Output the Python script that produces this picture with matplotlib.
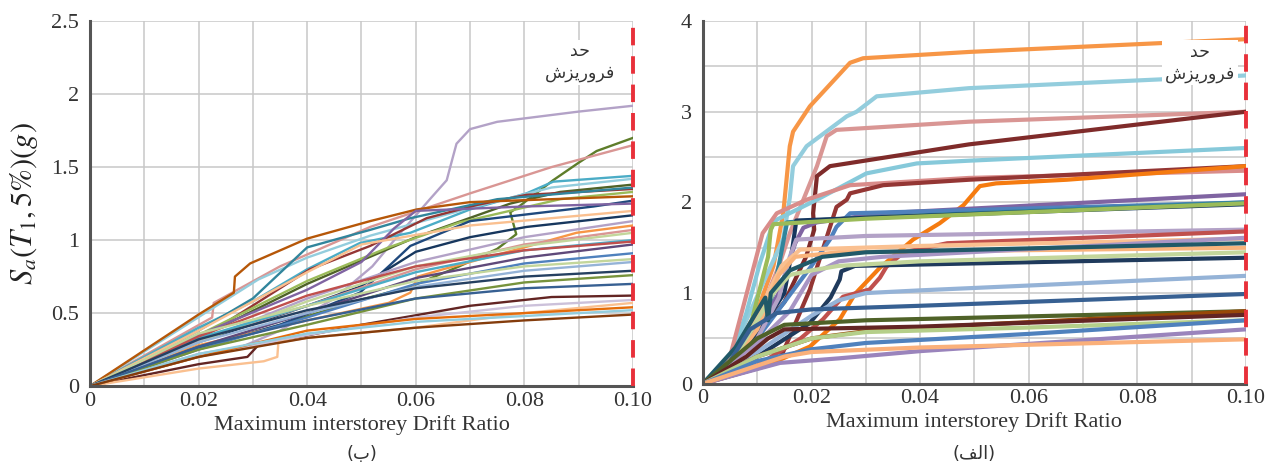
import matplotlib
matplotlib.use("Agg")
import matplotlib.pyplot as plt

plt.rcParams['font.family'] = ['Liberation Serif', 'DejaVu Sans']
plt.rcParams['mathtext.fontset'] = 'stix'

# ---------------- left panel (ب) : thin IDA curves ----------------
left_x = [
    [0, 0.02, 0.028, 0.035, 0.045, 0.052, 0.0565, 0.0626, 0.0657, 0.0667, 0.0675, 0.07, 0.075, 0.09, 0.10],
    [0, 0.02, 0.035, 0.0497, 0.059, 0.068, 0.075, 0.0785, 0.0774, 0.079, 0.0853, 0.09, 0.0933, 0.10],
    [0, 0.0225, 0.0228, 0.035, 0.0516, 0.07, 0.085, 0.10],
    [0, 0.02, 0.03, 0.04, 0.0497, 0.059, 0.07, 0.0804, 0.0853, 0.10],
    [0, 0.0233, 0.031, 0.04, 0.0516, 0.07, 0.085, 0.10],
    [0, 0.02, 0.04, 0.06, 0.0774, 0.0866, 0.10],
    [0, 0.02, 0.0295, 0.0405, 0.0516, 0.062, 0.0712, 0.0804, 0.10],
    [0, 0.02, 0.03, 0.04, 0.0516, 0.059, 0.075, 0.10],
    [0, 0.02, 0.04, 0.055, 0.068, 0.0866, 0.10],
    [0, 0.02, 0.0265, 0.0267, 0.0295, 0.04, 0.0516, 0.0602, 0.07, 0.10],
    [0, 0.02, 0.035, 0.0497, 0.055, 0.059, 0.07, 0.0927, 0.10],
    [0, 0.02, 0.04, 0.05, 0.056, 0.06, 0.08, 0.10],
    [0, 0.02, 0.04, 0.05, 0.07, 0.10],
    [0, 0.02, 0.04, 0.0497, 0.06, 0.07, 0.0804, 0.10],
    [0, 0.02, 0.04, 0.06, 0.08, 0.10],
    [0, 0.02, 0.04, 0.055, 0.059, 0.0604, 0.065, 0.08, 0.0896, 0.10],
    [0, 0.02, 0.04, 0.06, 0.08, 0.10],
    [0, 0.02, 0.04, 0.06, 0.08, 0.10],
    [0, 0.02, 0.04, 0.06, 0.08, 0.10],
    [0, 0.02, 0.04, 0.06, 0.08, 0.10],
    [0, 0.02, 0.04, 0.06, 0.08, 0.10],
    [0, 0.02, 0.04, 0.06, 0.08, 0.10],
    [0, 0.02, 0.04, 0.06, 0.08, 0.10],
    [0, 0.02, 0.04, 0.06, 0.08, 0.10],
    [0, 0.02, 0.04, 0.06, 0.08, 0.10],
    [0, 0.02, 0.04, 0.06, 0.08, 0.10],
    [0, 0.02, 0.04, 0.06, 0.08, 0.10],
    [0, 0.02, 0.029, 0.031, 0.035, 0.05, 0.07, 0.085, 0.10],
    [0, 0.02, 0.04, 0.06, 0.08, 0.10],
    [0, 0.02, 0.032, 0.0345, 0.0347, 0.04, 0.06, 0.08, 0.10],
    [0, 0.02, 0.04, 0.06, 0.08, 0.10],
    [0, 0.02, 0.04, 0.06, 0.08, 0.10],
    [0, 0.02, 0.04, 0.06, 0.08, 0.10],
]
left_y = [
    [0, 0.22, 0.27, 0.38, 0.60, 0.82, 1.02, 1.28, 1.41, 1.55, 1.66, 1.76, 1.81, 1.88, 1.92],
    [0, 0.26, 0.42, 0.59, 0.68, 0.82, 0.94, 1.04, 1.19, 1.23, 1.41, 1.53, 1.61, 1.70],
    [0, 0.47, 0.57, 0.82, 1.09, 1.32, 1.50, 1.65],
    [0, 0.40, 0.58, 0.80, 0.98, 1.05, 1.21, 1.32, 1.40, 1.44],
    [0, 0.55, 0.73, 0.88, 1.03, 1.22, 1.36, 1.42],
    [0, 0.33, 0.70, 1.02, 1.25, 1.33, 1.38],
    [0, 0.32, 0.54, 0.80, 0.96, 1.15, 1.24, 1.31, 1.35],
    [0, 0.38, 0.60, 0.95, 1.07, 1.15, 1.28, 1.36],
    [0, 0.35, 0.72, 0.95, 1.12, 1.28, 1.33],
    [0, 0.49, 0.64, 0.75, 0.84, 1.01, 1.13, 1.21, 1.26, 1.30],
    [0, 0.26, 0.42, 0.64, 0.82, 0.96, 1.13, 1.23, 1.27],
    [0, 0.35, 0.66, 0.85, 1.08, 1.20, 1.23, 1.25],
    [0, 0.38, 0.78, 0.97, 1.10, 1.20],
    [0, 0.30, 0.55, 0.68, 0.92, 1.02, 1.09, 1.17],
    [0, 0.30, 0.60, 0.85, 1.02, 1.13],
    [0, 0.28, 0.45, 0.57, 0.64, 0.75, 0.80, 0.95, 1.05, 1.10],
    [0, 0.32, 0.55, 0.80, 0.97, 1.07],
    [0, 0.30, 0.58, 0.82, 0.96, 1.05],
    [0, 0.33, 0.55, 0.78, 0.93, 1.00],
    [0, 0.34, 0.62, 0.82, 0.93, 0.99],
    [0, 0.27, 0.50, 0.74, 0.88, 0.97],
    [0, 0.25, 0.47, 0.70, 0.84, 0.91],
    [0, 0.36, 0.55, 0.72, 0.82, 0.87],
    [0, 0.30, 0.50, 0.68, 0.79, 0.85],
    [0, 0.32, 0.52, 0.67, 0.75, 0.79],
    [0, 0.25, 0.42, 0.60, 0.71, 0.76],
    [0, 0.27, 0.45, 0.60, 0.67, 0.70],
    [0, 0.15, 0.20, 0.28, 0.31, 0.42, 0.55, 0.61, 0.62],
    [0, 0.20, 0.35, 0.47, 0.55, 0.59],
    [0, 0.12, 0.17, 0.20, 0.30, 0.33, 0.40, 0.50, 0.57],
    [0, 0.20, 0.38, 0.46, 0.50, 0.54],
    [0, 0.22, 0.36, 0.44, 0.48, 0.52],
    [0, 0.20, 0.33, 0.40, 0.45, 0.49],
]
left_colors = [
    '#B3A2C7', '#5E7D2A', '#D99694', '#4BACC6', '#93CDDD', '#4F6228', '#943634',
    '#31859C', '#9BBB59', '#B65708', '#1F497D', '#8064A2', '#FAC090', '#17375E',
    '#B3A2C7', '#F79646', '#D99694', '#C3D69B', '#4BACC6', '#C0504D', '#5F497A',
    '#4F81BD', '#C3D69B', '#95B3D7', '#254061', '#77933C', '#376092', '#632523',
    '#CCC1DA', '#FAC090', '#E46C0A', '#93CDDD', '#843C0C',
]

# ---------------- right panel (الف) : thick IDA curves ----------------
right_x = [
    [0, 0.005, 0.01, 0.013, 0.0148, 0.016, 0.0166, 0.0197, 0.0271, 0.0295, 0.0492, 0.10],
    [0, 0.005, 0.008, 0.011, 0.0148, 0.016, 0.0166, 0.0191, 0.0265, 0.0283, 0.032, 0.049, 0.10],
    [0, 0.005, 0.01, 0.014, 0.016, 0.021, 0.0228, 0.0246, 0.049, 0.10],
    [0, 0.005, 0.01, 0.015, 0.019, 0.0205, 0.0203, 0.021, 0.0234, 0.049, 0.10],
    [0, 0.0055, 0.008, 0.0105, 0.0129, 0.0136, 0.021, 0.0301, 0.0394, 0.049, 0.10],
    [0, 0.005, 0.011, 0.0136, 0.0191, 0.0271, 0.049, 0.10],
    [0, 0.0136, 0.0147, 0.0197, 0.0246, 0.0265, 0.0271, 0.0332, 0.049, 0.10],
    [0, 0.0117, 0.0197, 0.0252, 0.028, 0.0326, 0.0387, 0.0436, 0.048, 0.051, 0.054, 0.067, 0.10],
    [0, 0.005, 0.01, 0.014, 0.017, 0.0185, 0.021, 0.033, 0.10],
    [0, 0.005, 0.01, 0.015, 0.02, 0.0235, 0.0246, 0.0271, 0.04, 0.10],
    [0, 0.005, 0.01, 0.013, 0.0155, 0.02, 0.033, 0.10],
    [0, 0.005, 0.01, 0.015, 0.0165, 0.0172, 0.03, 0.10],
    [0, 0.005, 0.009, 0.012, 0.0125, 0.013, 0.03, 0.10],
    [0, 0.005, 0.01, 0.014, 0.016, 0.0172, 0.03, 0.10],
    [0, 0.01, 0.018, 0.0221, 0.0258, 0.0307, 0.0326, 0.0338, 0.037, 0.045, 0.10],
    [0, 0.005, 0.009, 0.012, 0.0145, 0.0179, 0.04, 0.10],
    [0, 0.005, 0.01, 0.014, 0.017, 0.025, 0.10],
    [0, 0.01, 0.016, 0.02, 0.025, 0.033, 0.10],
    [0, 0.01, 0.0197, 0.0235, 0.0252, 0.0255, 0.028, 0.10],
    [0, 0.006, 0.01, 0.013, 0.016, 0.02, 0.025, 0.04, 0.10],
    [0, 0.006, 0.01, 0.0115, 0.012, 0.0125, 0.016, 0.022, 0.03, 0.10],
    [0, 0.005, 0.01, 0.015, 0.02, 0.025, 0.03, 0.04, 0.10],
    [0, 0.005, 0.0087, 0.0136, 0.02, 0.04, 0.10],
    [0, 0.006, 0.01, 0.015, 0.03, 0.10],
    [0, 0.01, 0.02, 0.03, 0.05, 0.10],
    [0, 0.008, 0.012, 0.015, 0.04, 0.10],
    [0, 0.01, 0.02, 0.03, 0.06, 0.10],
    [0, 0.01, 0.02, 0.03, 0.06, 0.10],
    [0, 0.0142, 0.025, 0.04, 0.07, 0.10],
    [0, 0.01, 0.015, 0.02, 0.04, 0.10],
]
right_y = [
    [0, 0.30, 0.80, 1.30, 1.88, 2.62, 2.78, 3.06, 3.54, 3.59, 3.66, 3.80],
    [0, 0.30, 0.70, 1.10, 1.60, 2.05, 2.40, 2.62, 2.95, 3.00, 3.17, 3.26, 3.40],
    [0, 0.25, 0.70, 1.30, 1.66, 2.40, 2.73, 2.80, 2.89, 3.00],
    [0, 0.20, 0.55, 0.90, 1.40, 1.70, 1.88, 2.29, 2.40, 2.64, 3.00],
    [0, 0.34, 0.78, 1.33, 1.77, 1.81, 2.03, 2.32, 2.43, 2.46, 2.60],
    [0, 0.30, 1.66, 1.88, 2.03, 2.19, 2.27, 2.35],
    [0, 0.23, 0.34, 1.04, 1.95, 2.03, 2.10, 2.19, 2.25, 2.40],
    [0, 0.20, 0.41, 0.71, 0.99, 1.28, 1.59, 1.77, 1.97, 2.18, 2.21, 2.25, 2.40],
    [0, 0.25, 0.60, 1.00, 1.55, 1.72, 1.78, 1.88, 2.09],
    [0, 0.20, 0.50, 0.90, 1.30, 1.60, 1.73, 1.88, 1.90, 2.00],
    [0, 0.22, 0.60, 1.00, 1.78, 1.80, 1.84, 2.00],
    [0, 0.20, 0.55, 1.00, 1.50, 1.80, 1.83, 1.98],
    [0, 0.25, 0.70, 1.40, 1.70, 1.76, 1.82, 1.99],
    [0, 0.20, 0.50, 0.95, 1.40, 1.59, 1.63, 1.70],
    [0, 0.20, 0.50, 0.71, 0.96, 1.04, 1.17, 1.29, 1.45, 1.55, 1.68],
    [0, 0.25, 0.60, 1.00, 1.30, 1.48, 1.52, 1.60],
    [0, 0.20, 0.60, 1.20, 1.40, 1.45, 1.50],
    [0, 0.45, 0.80, 1.20, 1.35, 1.40, 1.61],
    [0, 0.30, 0.67, 0.95, 1.15, 1.24, 1.30, 1.39],
    [0, 0.30, 0.70, 1.00, 1.20, 1.25, 1.30, 1.35, 1.45],
    [0, 0.40, 0.80, 0.95, 0.70, 1.00, 1.25, 1.40, 1.45, 1.55],
    [0, 0.15, 0.35, 0.55, 0.75, 0.92, 1.00, 1.03, 1.19],
    [0, 0.25, 0.60, 0.78, 0.82, 0.86, 0.99],
    [0, 0.30, 0.50, 0.65, 0.70, 0.80],
    [0, 0.30, 0.50, 0.58, 0.65, 0.80],
    [0, 0.30, 0.50, 0.60, 0.63, 0.76],
    [0, 0.30, 0.50, 0.57, 0.62, 0.70],
    [0, 0.25, 0.38, 0.45, 0.55, 0.70],
    [0, 0.23, 0.28, 0.36, 0.48, 0.60],
    [0, 0.20, 0.30, 0.35, 0.40, 0.49],
]
right_colors = [
    '#F79646', '#93CDDD', '#D99694', '#7F2B2A', '#86C9DA', '#D98C8A', '#943634',
    '#F57B10', '#8064A2', '#4F81BD', '#31859C', '#17375E', '#9BBB59', '#B3A2C7',
    '#C0504D', '#FAC090', '#F9B47C', '#A895C4', '#1F3A5C', '#C3D69B', '#215968',
    '#95B3D7', '#376092', '#4F6228', '#984807', '#632523', '#B5CF8A', '#4F81BD',
    '#9A84BC', '#FAB07A',
]

x_ticks = [0, 0.02, 0.04, 0.06, 0.08, 0.10]
x_tick_labels = ['0', '0.02', '0.04', '0.06', '0.08', '0.10']
left_y_ticks = [0, 0.5, 1, 1.5, 2, 2.5]
left_y_labels = ['0', '0.5', '1', '1.5', '2', '2.5']
right_y_ticks = [0, 1, 2, 3, 4]
right_y_labels = ['0', '1', '2', '3', '4']

# Persian labels written with Arabic presentation forms in visual order
collapse_text = '\ufeaa\ufea3\n\ufeb5\ufeb0\ufef3\ufead\ufeed\ufeae\ufed3'   # حد / فروریزش
left_title = '(\ufe8f)'                    # (ب)
right_title = '(\ufed2\ufedf\ufe8d)'       # (الف)

fig = plt.figure(figsize=(12.85, 4.68), dpi=100)
ax1 = fig.add_axes([0.070, 0.175, 0.4226, 0.780])
ax2 = fig.add_axes([0.547, 0.180, 0.4226, 0.775])


def style_axes(ax, ymax, yticks, ylabels, yminor):
    ax.set_xlim(0, 0.10)
    ax.set_ylim(0, ymax)
    ax.set_xticks(x_ticks)
    ax.set_xticklabels(x_tick_labels)
    ax.set_xticks([0.01, 0.03, 0.05, 0.07, 0.09], minor=True)
    ax.set_yticks(yticks)
    ax.set_yticklabels(ylabels)
    if yminor:
        ax.set_yticks(yminor, minor=True)
    ax.grid(True, which='both', color='#C8C8C8', lw=1.1)
    ax.set_axisbelow(True)
    for s in ['top', 'right']:
        ax.spines[s].set_visible(False)
    for s in ['left', 'bottom']:
        ax.spines[s].set_color('#555555')
        ax.spines[s].set_linewidth(2.2)
    ax.tick_params(which='both', length=0, labelsize=16, colors='#333333')
    ax.tick_params(axis='y', pad=8)
    ax.tick_params(axis='x', pad=4)
    ax.set_xlabel('Maximum interstorey Drift Ratio', fontsize=16, color='#333333', labelpad=3)
    ax.axvline(0.10, color='#E8303A', lw=2.8, dashes=(4.5, 2.8), zorder=10, clip_on=False)


for xs, ys, c in zip(left_x, left_y, left_colors):
    ax1.plot(xs, ys, color=c, lw=1.7, solid_joinstyle='round')
style_axes(ax1, 2.5, left_y_ticks, left_y_labels, None)
ax1.set_ylabel(r'$S_a(T_1,5\%)(g)$', fontsize=22, color='#222222', labelpad=8)
ax1.text(0.0902, 2.22, collapse_text, ha='center', va='center', fontsize=12.5,
         family=['DejaVu Sans'], color='#333333', linespacing=1.25,
         bbox=dict(facecolor='white', edgecolor='none', pad=2), zorder=11)
fig.text(0.2815, 0.030, left_title, ha='center', va='center',
         fontsize=13, family=['DejaVu Sans'], color='#333333')

for xs, ys, c in zip(right_x, right_y, right_colors):
    ax2.plot(xs, ys, color=c, lw=3.0, solid_joinstyle='round', solid_capstyle='round')
style_axes(ax2, 4, right_y_ticks, right_y_labels, [0.5, 1.5, 2.5, 3.5])
ax2.text(0.0915, 3.54, collapse_text, ha='center', va='center', fontsize=12.5,
         family=['DejaVu Sans'], color='#333333', linespacing=1.25,
         bbox=dict(facecolor='white', edgecolor='none', pad=2), zorder=11)
fig.text(0.7583, 0.030, right_title, ha='center', va='center',
         fontsize=13, family=['DejaVu Sans'], color='#333333')

fig.savefig('out.png', dpi=100)
